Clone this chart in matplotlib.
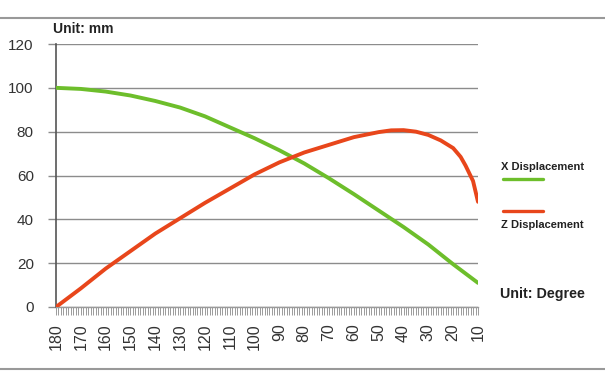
import matplotlib.pyplot as plt
from matplotlib.ticker import MultipleLocator
from matplotlib.lines import Line2D

plt.rcParams["font.family"] = ["Liberation Sans", "DejaVu Sans"]

# ---- data --------------------------------------------------------------------
# angle in degrees (x axis runs 180 -> 10)
x_angle = [180, 170, 160, 150, 140, 130, 120, 110, 100, 90, 80, 70, 60, 50, 40, 30, 20, 10]
x_disp = [100, 99.5, 98.3, 96.5, 94, 91, 87, 82, 77, 71.5, 65.5, 58.7, 51.5, 44, 36.5, 28.5, 19.5, 11]

z_angle = [180, 170, 160, 150, 140, 130, 120, 110, 100, 90, 80, 70, 60, 50, 45, 40,
           35, 30, 25, 20, 17, 15, 12, 10]
z_disp = [0, 8.5, 17.5, 25.5, 33.5, 40.5, 47.5, 54, 60.5, 66, 70.5, 74, 77.5, 79.8, 80.6, 80.7,
          80, 78.5, 76, 72.5, 68.5, 64.5, 57.5, 48]

y_ticks = [0, 20, 40, 60, 80, 100, 120]
x_ticks = list(range(180, 9, -10))

GREEN = "#6DBE2B"
RED = "#E8461B"
GRID = "#8C8C8C"

fig = plt.figure(figsize=(6.05, 3.86), dpi=100)
W, H = 605, 386


def fx(px):
    return px / W


def fy(py):
    return 1 - py / H


ax = fig.add_axes([fx(56), fy(307), fx(478) - fx(56), fy(44) - fy(307)])

ax.plot(x_angle, x_disp, color=GREEN, lw=2.8, solid_capstyle="round",
        solid_joinstyle="round", zorder=3)
ax.plot(z_angle, z_disp, color=RED, lw=2.8, solid_capstyle="round",
        solid_joinstyle="round", zorder=4)

ax.set_xlim(180, 10)
ax.set_ylim(0, 120)
ax.set_yticks(y_ticks)
ax.set_xticks(x_ticks)
ax.xaxis.set_minor_locator(MultipleLocator(1))
ax.set_xticklabels([str(v) for v in x_ticks], rotation=90)

ax.grid(axis="y", color=GRID, lw=1.0)
ax.set_axisbelow(True)
for s in ("top", "right"):
    ax.spines[s].set_visible(False)
ax.spines["left"].set_color("#555555")
ax.spines["left"].set_linewidth(1.2)
ax.spines["bottom"].set_color("#9A9A9A")
ax.spines["bottom"].set_linewidth(1.0)

ax.tick_params(axis="y", length=6, width=1.0, color=GRID, pad=10,
               labelsize=11, labelcolor="#333333")
ax.tick_params(axis="x", which="both", length=6, width=0.7, color="#9A9A9A",
               pad=6, labelsize=11.5, labelcolor="#333333")

# ---- annotations ------------------------------------------------------------
fig.text(fx(53), fy(29), "Unit: mm", fontsize=10, fontweight="bold",
         color="#222222", va="center", ha="left")
fig.text(fx(501), fy(167), "X Displacement", fontsize=8, fontweight="bold",
         color="#222222", va="center", ha="left")
fig.text(fx(501), fy(225), "Z Displacement", fontsize=8, fontweight="bold",
         color="#222222", va="center", ha="left")
fig.text(fx(500), fy(294), "Unit: Degree", fontsize=10.3, fontweight="bold",
         color="#222222", va="center", ha="left")

fig.add_artist(Line2D([fx(503), fx(543)], [fy(179), fy(179)], color=GREEN, lw=2.4,
                      solid_capstyle="round"))
fig.add_artist(Line2D([fx(503), fx(543)], [fy(211), fy(211)], color=RED, lw=2.4,
                      solid_capstyle="round"))

# frame lines at top and bottom of the panel
fig.add_artist(Line2D([0, 1], [fy(18), fy(18)], color="#999999", lw=1.5))
fig.add_artist(Line2D([0, 1], [fy(369), fy(369)], color="#999999", lw=1.5))

fig.savefig("out.png", dpi=100)
